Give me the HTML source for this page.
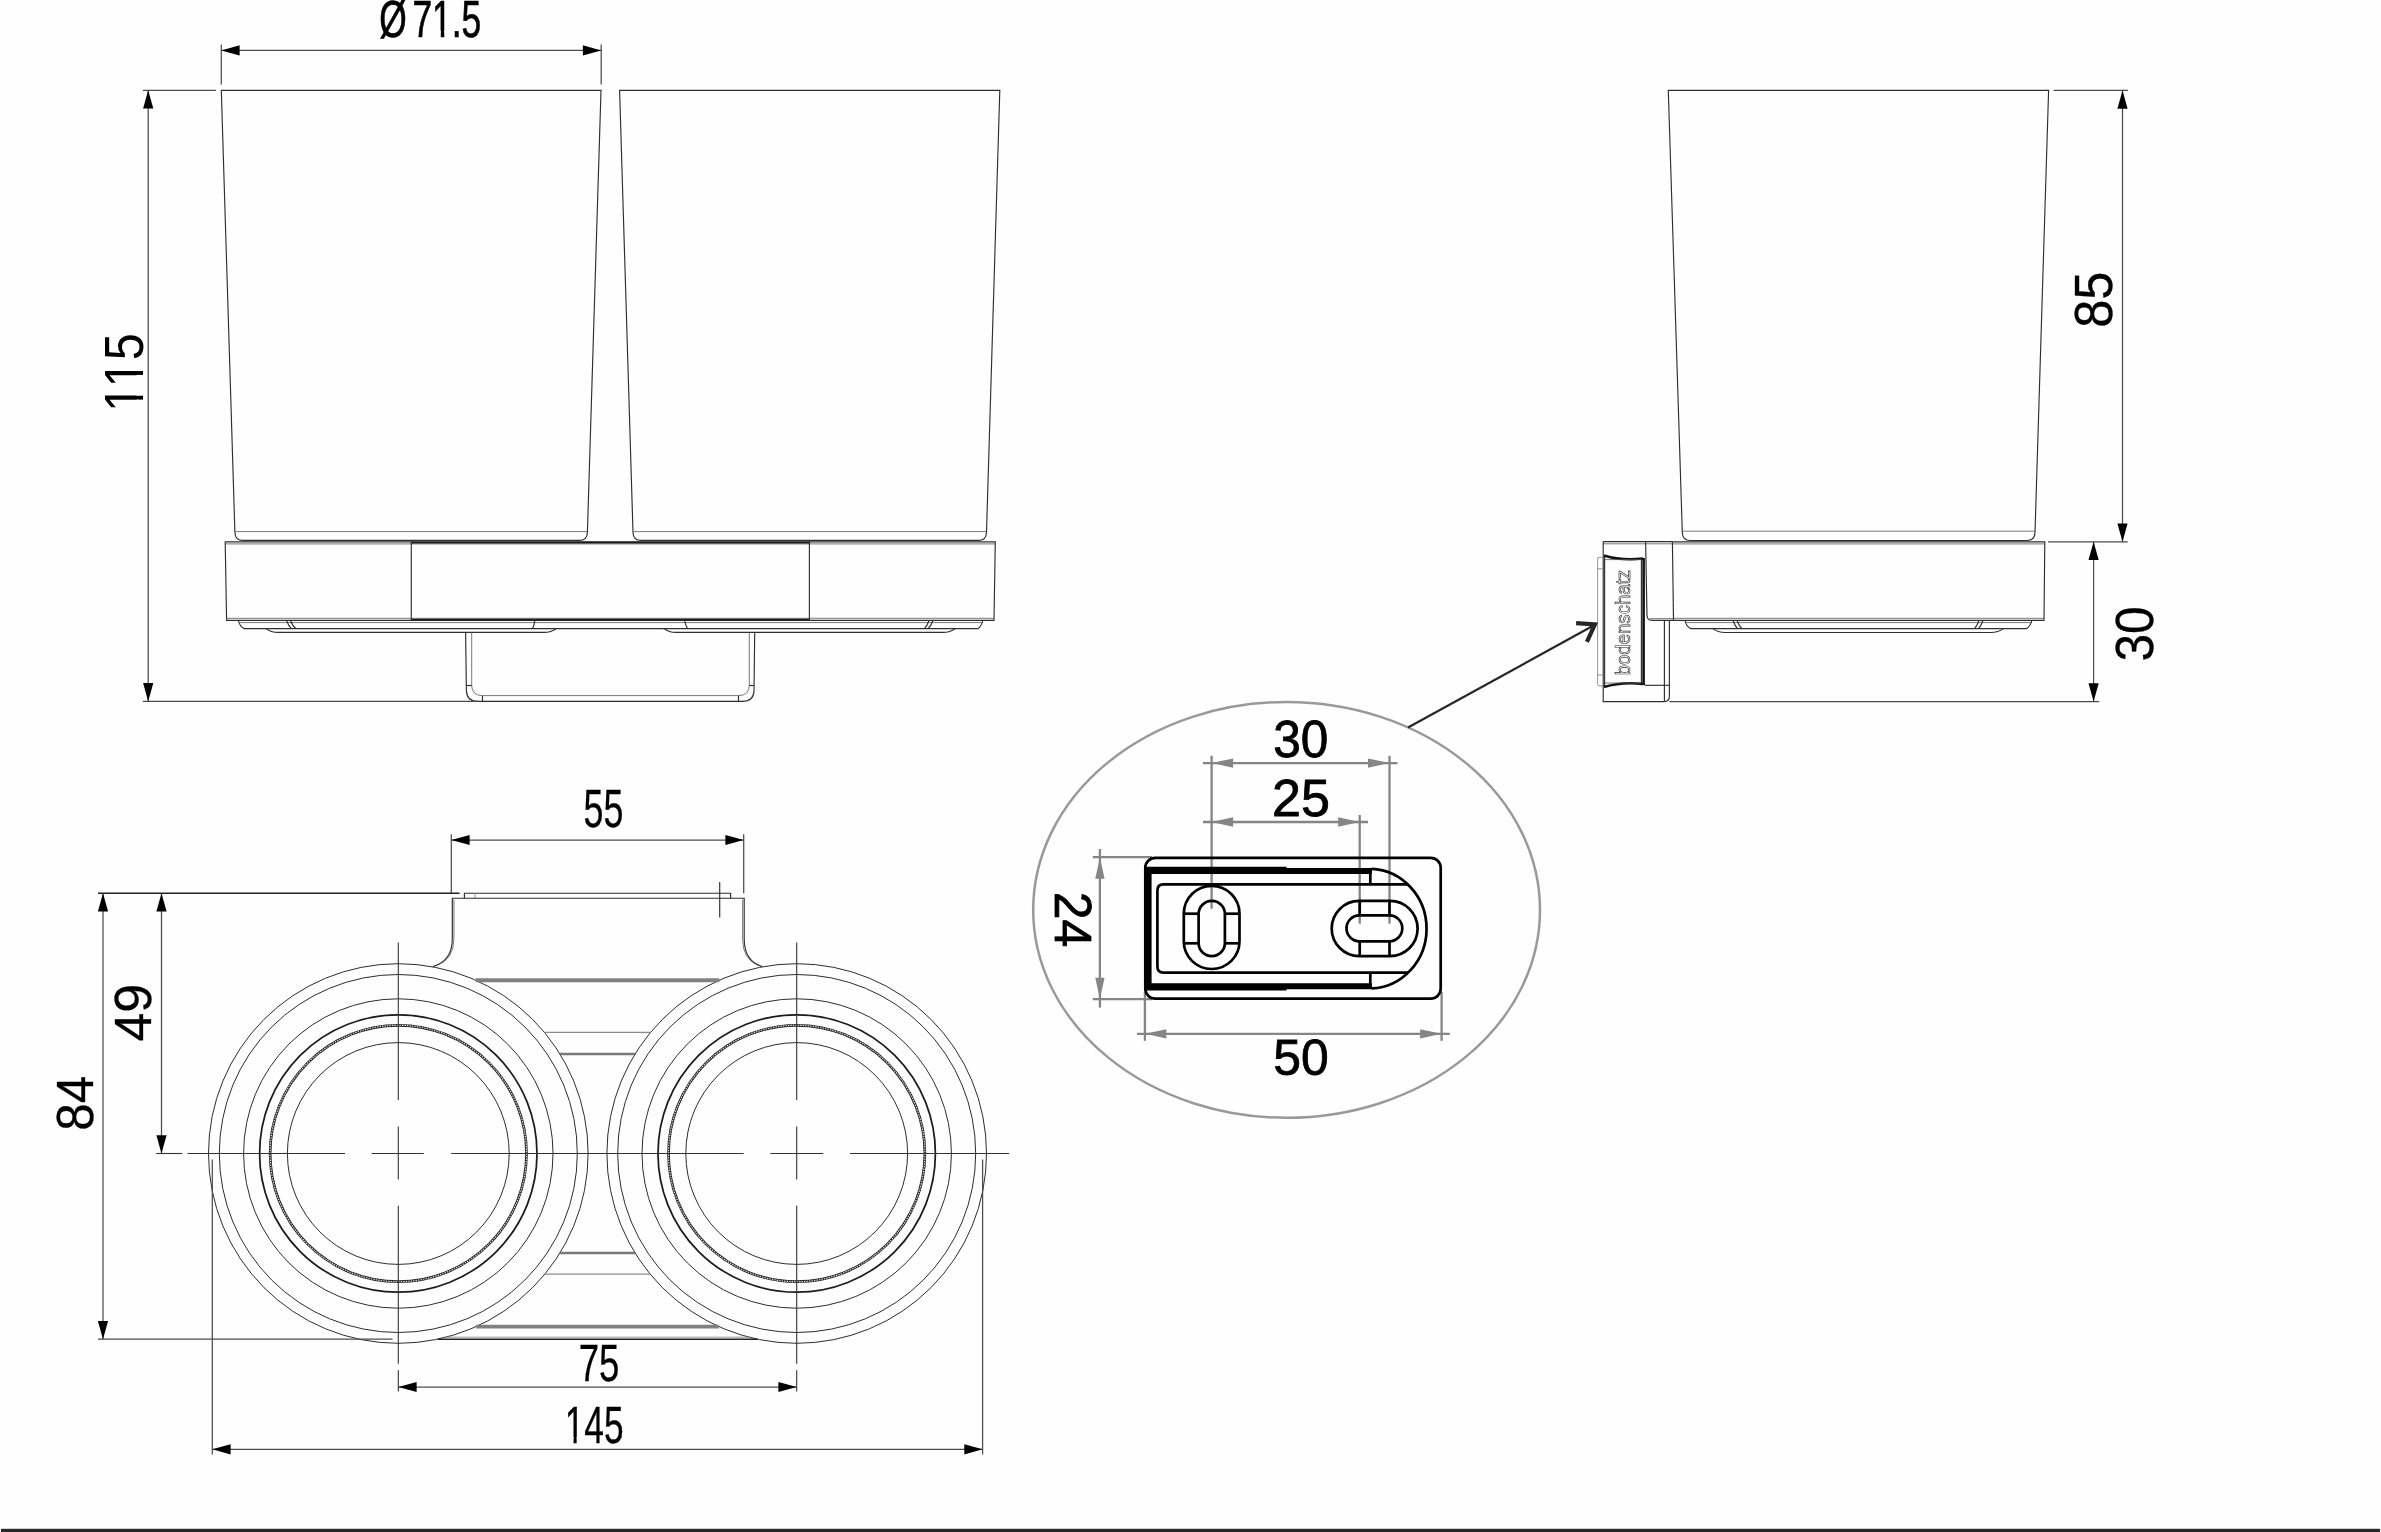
<!DOCTYPE html>
<html><head><meta charset="utf-8"><title>Drawing</title>
<style>
html,body{margin:0;padding:0;background:#fff;}
body{width:2381px;height:1532px;overflow:hidden;}
svg{display:block;font-family:"Liberation Sans",sans-serif;}
svg{filter:grayscale(1);}
path,circle,rect.p,ellipse{fill:none;}
.l{stroke:#2e2e2e;stroke-width:1.15;}
.ci{stroke:#222;stroke-width:0.95;}
.t{stroke:#555;stroke-width:0.8;}
.k{stroke:#1c1c1c;stroke-width:1.75;}
.kk{stroke:#111;stroke-width:2.6;}
.g{stroke:#8a8a8a;stroke-width:0.9;}
.d{stroke:#4c4c4c;stroke-width:1.25;}
.c{stroke:#333;stroke-width:1.1;}
.h{stroke:#262626;stroke-width:2.7;}
.hw{stroke:#ececec;stroke-width:1.1;stroke-dasharray:1.4 1.1;}
.kg{stroke:#808080;stroke-width:3.9;}
.l3{stroke:#222;stroke-width:1.5;}
.g2{stroke:#8a8a8a;stroke-width:1.3;}
.l2{stroke:#787878;stroke-width:2.3;}
.gd{stroke:#858585;stroke-width:2.3;}
.ld{stroke:#262626;stroke-width:2.2;}
.ldh{stroke:#262626;stroke-width:4.2;stroke-linejoin:miter;stroke-miterlimit:10;}
.p{stroke:#000;stroke-width:2.7;}
.pu{stroke:#000;stroke-width:6.0;stroke-linejoin:miter;}
</style></head>
<body>
<svg width="2381" height="1532" viewBox="0 0 2381 1532">
<rect x="0" y="0" width="2381" height="1532" fill="#fefefe"/>
<path class="l" d="M221.3 90.3L601 90.3L587.4 532.4Q587.1 540.4 579.4 540.4L242.9 540.4Q235.2 540.4 234.9 532.4Z"/>
<path class="t" d="M235.3 531.6L587 531.6"/>
<path class="l" d="M619.6 90.3L999.8 90.3L986.5 532.4Q986.2 540.4 978.5 540.4L641 540.4Q633.3 540.4 633 532.4Z"/>
<path class="t" d="M633.4 531.6L986.1 531.6"/>
<path class="l" d="M225.2 541.8L995.3 541.8L994 620.3L226.6 620.3Z"/>
<path class="t" d="M225.4 543.9L995.1 543.9"/>
<path class="t" d="M226.5 618.3L994.1 618.3"/>
<path class="l" d="M411.3 541.8L411.3 620.3"/>
<path class="l" d="M809.4 541.8L809.4 620.3"/>
<path class="k" d="M411.3 542.6L809.4 542.6"/>
<path class="k" d="M411.3 619.6L809.4 619.6"/>
<path class="l" d="M238.4 620.5Q239.5 626 244 628.6L978 628.6Q981.6 626 982.8 620.5"/>
<path class="t" d="M239.5 622.6L982 622.6"/>
<path class="l" d="M286.5 620.5Q288.5 626 291.5 628.6"/>
<path class="l" d="M290.5 620.5Q292.5 626 296 628.6"/>
<path class="l" d="M534.8 620.5Q534.3 625 532.5 628.6"/>
<path class="l" d="M684.5 620.5Q685.5 625 687.5 628.6"/>
<path class="l" d="M933 620.5Q931 626 928 628.6"/>
<path class="l" d="M929 620.5Q927 626 924.5 628.6"/>
<path class="l" d="M266 628.6Q271 632.4 278 632.4L544 632.4Q551 632.4 556.3 628.6"/>
<path class="l" d="M664 628.6Q669 632.4 676 632.4L943 632.4Q950 632.4 955.3 628.6"/>
<path class="l" d="M465.6 632.4L466.4 691Q467 701.4 478 701.4L742.5 701.4Q753.5 701.4 754 691L754.7 632.4"/>
<path class="t" d="M471.7 632.4L471.7 685.5Q472 695.6 482.5 695.6L738.5 695.6Q749 695.6 749.3 685.5L749.3 632.4"/>
<path class="l" d="M466.4 685.5L471.7 685.5"/>
<path class="l" d="M749.3 685.5L754 685.5"/>
<path class="l" d="M482.5 695.6L482.5 701.4"/>
<path class="l" d="M738.5 695.6L738.5 701.4"/>
<path class="d" d="M221.3 44.5L221.3 84.6"/>
<path class="d" d="M601.2 44.5L601.2 84.6"/>
<path class="d" d="M221.3 50.4L601.2 50.4"/>
<path style="fill:#000" d="M221.3 50.4L239.6 45.3L239.6 55.5Z"/>
<path style="fill:#000" d="M601.2 50.4L582.9 55.5L582.9 45.3Z"/>
<g transform="translate(379.32,36.75) scale(0.6910,1)"><text font-size="51.16" fill="#000" stroke="#000" stroke-width="0.7" stroke-linejoin="miter">Ø<tspan dx="8.1">7</tspan>1.5</text><rect x="78.75" y="-6.07" width="10.22" height="7.42" fill="#fefefe"/><rect x="94" y="-6.07" width="9.95" height="7.42" fill="#fefefe"/></g>
<path class="d" d="M142.9 90.3L215.9 90.3"/>
<path class="d" d="M142.9 701.4L478 701.4"/>
<path class="d" d="M148.2 90.3L148.2 701.4"/>
<path style="fill:#000" d="M148.2 90.3L153.3 108.6L143.1 108.6Z"/>
<path style="fill:#000" d="M148.2 701.4L143.1 683.1L153.3 683.1Z"/>
<g transform="translate(142.57,412.09) rotate(-90) scale(0.8904,1)"><text font-size="54.75" fill="#000">1<tspan dx="-2.7">1</tspan>5</text><rect x="3.14" y="-6.01" width="10.87" height="7.01" fill="#fefefe"/><rect x="18.36" y="-6.01" width="10.06" height="7.01" fill="#fefefe"/><rect x="30.89" y="-6.01" width="10.87" height="7.01" fill="#fefefe"/><rect x="46.11" y="-6.01" width="10.06" height="7.01" fill="#fefefe"/></g>
<path class="l" d="M1668.3 90.4L2048.6 90.4L2035 532.5Q2034.7 540.5 2027 540.5L1690.3 540.5Q1682.6 540.5 1682.3 532.5Z"/>
<path class="t" d="M1682.7 531.2L2034.6 531.2"/>
<path class="l" d="M1672.4 541.8L2044.8 541.8L2044 620.3L1673.5 620.3"/>
<path class="t" d="M1672.4 543.9L2044.6 543.9"/>
<path class="t" d="M1673.5 618.3L2044 618.3"/>
<path class="l" d="M1685 620.5Q1686 626 1690.5 628.6L2026.5 628.6Q2030.7 626 2031.8 620.5"/>
<path class="t" d="M1686 622.6L2031 622.6"/>
<path class="l" d="M1733 620.5Q1735 626 1737.5 628.6"/>
<path class="l" d="M1737 620.5Q1739 626 1742 628.6"/>
<path class="l" d="M1983 620.5Q1981 626 1978.5 628.6"/>
<path class="l" d="M1979 620.5Q1977 626 1974.5 628.6"/>
<path class="l" d="M1713 628.6Q1718 632.5 1725 632.5L1991 632.5Q1998 632.5 2003.5 628.6"/>
<path class="l" d="M1603.2 541.6L1672.4 541.6"/>
<path class="t" d="M1603.2 543.8L1672.4 543.8"/>
<path class="l" d="M1603.2 541.6L1603.2 701.6L1664 701.6Q1669.4 701.6 1669.4 696L1669.4 620.6"/>
<path class="l" d="M1664.4 620.6L1664.4 701.6"/>
<path class="l" d="M1644.5 685.3L1669.4 685.3"/>
<path class="l" d="M1645.6 541.6L1647 615.5Q1647.3 620.2 1652 620.4L1673.5 620.4"/>
<path class="l" d="M1672.4 541.6L1673.5 620.4"/>
<path class="t" d="M1650 618.6L1673.5 618.6"/>
<path class="g" d="M1603.2 557.3L1599 557.3Q1597.6 557.3 1597.6 558.8L1597.6 684.4Q1597.6 685.9 1599 685.9L1603.2 685.9"/>
<path class="g" d="M1597.6 568.8L1603.2 568.8"/>
<path class="g" d="M1597.6 675L1603.2 675"/>
<path class="l" d="M1604.6 556L1604.6 686.6"/>
<path class="l" d="M1641.4 559L1641.4 683.5"/>
<path class="kk" d="M1643.6 558L1643.6 685"/>
<path class="kk" d="M1604 555.5Q1622 561 1643 558.5"/>
<path class="kk" d="M1604 687Q1622 681.5 1643 684"/>
<path class="t" d="M1604.6 559.6L1641.4 559.6"/>
<path class="t" d="M1604.6 683L1641.4 683"/>
<text transform="translate(1630.3,675.3) rotate(-90) scale(0.916,1)" font-size="20.3" fill="#fff" stroke="#2a2a2a" stroke-width="0.65">bodenschatz</text>
<path class="d" d="M2053.6 90.4L2128 90.4"/>
<path class="d" d="M2048 541.8L2127.8 541.8"/>
<path class="d" d="M1669.4 701.6L2099.2 701.6"/>
<path class="d" d="M2122.5 90.4L2122.5 541.8"/>
<path style="fill:#000" d="M2122.5 90.4L2127.6 108.7L2117.4 108.7Z"/>
<path style="fill:#000" d="M2122.5 541.8L2117.4 523.5L2127.6 523.5Z"/>
<path class="d" d="M2093.6 541.8L2093.6 701.6"/>
<path style="fill:#000" d="M2093.6 541.8L2098.7 560.1L2088.5 560.1Z"/>
<path style="fill:#000" d="M2093.6 701.6L2088.5 683.3L2098.7 683.3Z"/>
<g transform="translate(2112.33,327.75) rotate(-90) scale(0.9517,1)"><text font-size="53.11" fill="#000" stroke="#000" stroke-width="0.3" stroke-linejoin="miter">85</text></g>
<g transform="translate(2153.43,661.54) rotate(-90) scale(0.9258,1)"><text font-size="53.53" fill="#000" stroke="#000" stroke-width="0.3" stroke-linejoin="miter">30</text></g>
<circle class="ci" cx="398.3" cy="1153.5" r="189.8"/>
<circle class="ci" cx="398.3" cy="1153.5" r="179"/>
<circle class="ci" cx="398.3" cy="1153.5" r="154.7"/>
<circle class="k" cx="398.3" cy="1153.5" r="138.7"/>
<circle class="ci" cx="398.3" cy="1153.5" r="110.9"/>
<circle class="h" cx="398.3" cy="1153.5" r="128.2"/>
<circle class="hw" cx="398.3" cy="1153.5" r="128.2"/>
<path class="c" d="M398.3 942.5L398.3 1100"/>
<path class="c" d="M398.3 1126.5L398.3 1179.6"/>
<path class="c" d="M398.3 1205.7L398.3 1363.7"/>
<path class="c" d="M398.3 1370.2L398.3 1391.5"/>
<circle class="ci" cx="796.7" cy="1153.5" r="189.8"/>
<circle class="ci" cx="796.7" cy="1153.5" r="179"/>
<circle class="ci" cx="796.7" cy="1153.5" r="154.7"/>
<circle class="k" cx="796.7" cy="1153.5" r="138.7"/>
<circle class="ci" cx="796.7" cy="1153.5" r="110.9"/>
<circle class="h" cx="796.7" cy="1153.5" r="128.2"/>
<circle class="hw" cx="796.7" cy="1153.5" r="128.2"/>
<path class="c" d="M796.7 942.5L796.7 1100"/>
<path class="c" d="M796.7 1126.5L796.7 1179.6"/>
<path class="c" d="M796.7 1205.7L796.7 1363.7"/>
<path class="c" d="M796.7 1370.2L796.7 1391.5"/>
<path class="c" d="M156.2 1153.5L182.3 1153.5"/>
<path class="c" d="M187.5 1153.5L345 1153.5"/>
<path class="c" d="M371.6 1153.5L423.8 1153.5"/>
<path class="c" d="M451.2 1153.5L743.7 1153.5"/>
<path class="c" d="M770.3 1153.5L823.3 1153.5"/>
<path class="c" d="M850 1153.5L1009.2 1153.5"/>
<path class="kg" d="M475.7 980.2L719.3 980.2"/>
<path class="g2" d="M544.36 1032.3L650.64 1032.3"/>
<path class="l2" d="M559.93 1054L635.07 1054"/>
<path class="l2" d="M559.93 1253L635.07 1253"/>
<path class="g2" d="M544.78 1274.2L650.22 1274.2"/>
<path class="kg" d="M476.15 1326.6L718.85 1326.6"/>
<path class="l3" d="M437.54 1339.2L757.46 1339.2"/>
<path class="g" d="M446.03 1337.2L748.97 1337.2"/>
<path class="l" d="M464.4 898.2L464.4 893.2L730.6 893.2L730.6 898.2"/>
<path class="g" d="M475 893.2L475 898.2"/>
<path class="l" d="M433 966.6Q452.3 961 452.3 938.8L452.3 898.2L744.2 898.2L744.2 938.8Q744.2 961 762 966.6"/>
<path class="t" d="M436.5 965.6Q453.9 959.5 453.9 938.8L453.9 899.6"/>
<path class="t" d="M758.5 965.6Q742.6 959.5 742.6 938.8L742.6 899.6"/>
<path class="l" d="M719.7 882L719.7 917.4"/>
<path class="d" d="M451.3 834.2L451.3 893.2"/>
<path class="d" d="M743.7 834.2L743.7 893.2"/>
<path class="d" d="M451.3 840L743.7 840"/>
<path style="fill:#000" d="M451.3 840L469.6 834.9L469.6 845.1Z"/>
<path style="fill:#000" d="M743.7 840L725.4 845.1L725.4 834.9Z"/>
<g transform="translate(583.62,827.33) scale(0.6754,1)"><text font-size="53.03" fill="#000" stroke="#000" stroke-width="0.3" stroke-linejoin="miter">55</text></g>
<path class="l3" d="M98 893.2L459.6 893.2"/>
<path class="d" d="M98 1339.2L392.5 1339.2"/>
<path class="d" d="M103 893.2L103 1339.2"/>
<path style="fill:#000" d="M103 893.2L108.1 911.5L97.9 911.5Z"/>
<path style="fill:#000" d="M103 1339.2L97.9 1320.9L108.1 1320.9Z"/>
<path class="d" d="M161.5 893.2L161.5 1153.5"/>
<path style="fill:#000" d="M161.5 893.2L166.6 911.5L156.4 911.5Z"/>
<path style="fill:#000" d="M161.5 1153.5L156.4 1135.2L166.6 1135.2Z"/>
<g transform="translate(92.74,1130.8) rotate(-90) scale(0.9410,1)"><text font-size="52.54" fill="#000" stroke="#000" stroke-width="0.3" stroke-linejoin="miter">84</text></g>
<g transform="translate(150.95,1041.54) rotate(-90) scale(1.0099,1)"><text font-size="51.41" fill="#000" stroke="#000" stroke-width="0.3" stroke-linejoin="miter">49</text></g>
<path class="d" d="M398.3 1387L796.7 1387"/>
<path style="fill:#000" d="M398.3 1387L416.6 1381.9L416.6 1392.1Z"/>
<path style="fill:#000" d="M796.7 1387L778.4 1392.1L778.4 1381.9Z"/>
<g transform="translate(578.77,1380.94) scale(0.6997,1)"><text font-size="52.31" fill="#000" stroke="#000" stroke-width="0.3" stroke-linejoin="miter">75</text></g>
<path class="d" d="M212.3 1159.5L212.3 1454.6"/>
<path class="d" d="M982.6 1159.5L982.6 1454.6"/>
<path class="d" d="M212.3 1449.3L982.6 1449.3"/>
<path style="fill:#000" d="M212.3 1449.3L230.6 1444.2L230.6 1454.4Z"/>
<path style="fill:#000" d="M982.6 1449.3L964.3 1454.4L964.3 1444.2Z"/>
<g transform="translate(564.66,1443.04) scale(0.6746,1)"><text font-size="52.31" fill="#000" stroke="#000" stroke-width="0.3" stroke-linejoin="miter">145</text><rect x="2.75" y="-5.96" width="10.43" height="7.11" fill="#fefefe"/><rect x="17.75" y="-5.96" width="9.86" height="7.11" fill="#fefefe"/></g>
<ellipse cx="1286.6" cy="909.9" rx="253.4" ry="207.9" fill="none" stroke="#999" stroke-width="2.5"/>
<path class="ld" d="M1408 727.5L1594.9 624.8"/>
<path class="ldh" d="M1576.1 623.2L1594.9 624.4L1586.9 641.8"/>
<path class="gd" d="M1211.6 755.8L1211.6 908.8"/>
<path class="gd" d="M1389.5 755.8L1389.5 923.7"/>
<path class="gd" d="M1203 763.1L1397.5 763.1"/>
<path style="fill:#858585" d="M1211.6 763.1L1233.1 758.45L1233.1 767.75Z"/>
<path style="fill:#858585" d="M1389.5 763.1L1368 767.75L1368 758.45Z"/>
<path class="gd" d="M1359.7 815L1359.7 923.7"/>
<path class="gd" d="M1203 822L1368 822"/>
<path style="fill:#858585" d="M1211.6 822L1233.1 817.35L1233.1 826.65Z"/>
<path style="fill:#858585" d="M1359.7 822L1338.2 826.65L1338.2 817.35Z"/>
<path class="gd" d="M1092.8 857.2L1152 857.2"/>
<path class="gd" d="M1092.8 999.2L1152 999.2"/>
<path class="gd" d="M1099.9 849L1099.9 1007.6"/>
<path style="fill:#858585" d="M1099.9 857.2L1104.55 878.7L1095.25 878.7Z"/>
<path style="fill:#858585" d="M1099.9 999.2L1095.25 977.7L1104.55 977.7Z"/>
<path class="gd" d="M1144.9 992L1144.9 1040.8"/>
<path class="gd" d="M1441.6 992L1441.6 1040.8"/>
<path class="gd" d="M1137 1033.8L1449.8 1033.8"/>
<path style="fill:#858585" d="M1144.9 1033.8L1166.4 1029.15L1166.4 1038.45Z"/>
<path style="fill:#858585" d="M1441.6 1033.8L1420.1 1038.45L1420.1 1029.15Z"/>
<rect class="p" x="1145.3" y="857.8" width="295.4" height="140.8" rx="10" ry="10"/>
<path class="pu" d="M1372 870.9L1148.6 870.9L1148.6 986.3L1372 986.3"/>
<path class="p" d="M1145.5 868.1L1286.6 868.1"/>
<path class="p" d="M1145.5 989.1L1286.6 989.1"/>
<path class="p" d="M1371.5 868.9A57.4 59.8 0 0 1 1371.5 988.4"/>
<path class="p" d="M1408 884.4L1163.5 884.4Q1157.4 884.4 1157.4 890.5L1157.4 966.5Q1157.4 972.6 1163.5 972.6L1408 972.6"/>
<path class="p" d="M1370.3 872L1370.3 884.4"/>
<path class="p" d="M1370.3 972.6L1370.3 985"/>
<rect class="p" x="1183.8" y="885.9" width="55.7" height="83.1" rx="27.85" ry="27.85"/>
<rect class="p" x="1198.6" y="900.9" width="26.3" height="55.2" rx="13.15" ry="13.15"/>
<path class="p" d="M1183.8 913.7L1198.6 913.7"/>
<path class="p" d="M1224.9 913.7L1239.5 913.7"/>
<path class="p" d="M1183.8 943.3L1198.6 943.3"/>
<path class="p" d="M1224.9 943.3L1239.5 943.3"/>
<rect class="p" x="1331.7" y="900.9" width="85.9" height="55.2" rx="27.6" ry="27.6"/>
<rect class="p" x="1346.5" y="915.3" width="55.8" height="26" rx="13" ry="13"/>
<path class="p" d="M1359.7 900.9L1359.7 915.3"/>
<path class="p" d="M1389.5 900.9L1389.5 915.3"/>
<path class="p" d="M1359.7 941.3L1359.7 956.1"/>
<path class="p" d="M1389.5 941.3L1389.5 956.1"/>
<g transform="translate(1273.21,757.09) scale(0.9407,1)"><text font-size="52.68" fill="#000" stroke="#000" stroke-width="0.8" stroke-linejoin="miter">30</text></g>
<g transform="translate(1272.08,816.1) scale(1.0098,1)"><text font-size="51.55" fill="#000" stroke="#000" stroke-width="0.8" stroke-linejoin="miter">25</text></g>
<g transform="translate(1273.3,1074.6) scale(0.9830,1)"><text font-size="50.71" fill="#000" stroke="#000" stroke-width="0.8" stroke-linejoin="miter">50</text></g>
<g transform="translate(1054.9,891.69) rotate(90) scale(0.9488,1)"><text font-size="52.56" fill="#000" stroke="#000" stroke-width="0.8" stroke-linejoin="miter">24</text></g>
<rect x="1" y="1528.8" width="2379" height="3.4" fill="#2a2624"/>
</svg>
</body></html>
